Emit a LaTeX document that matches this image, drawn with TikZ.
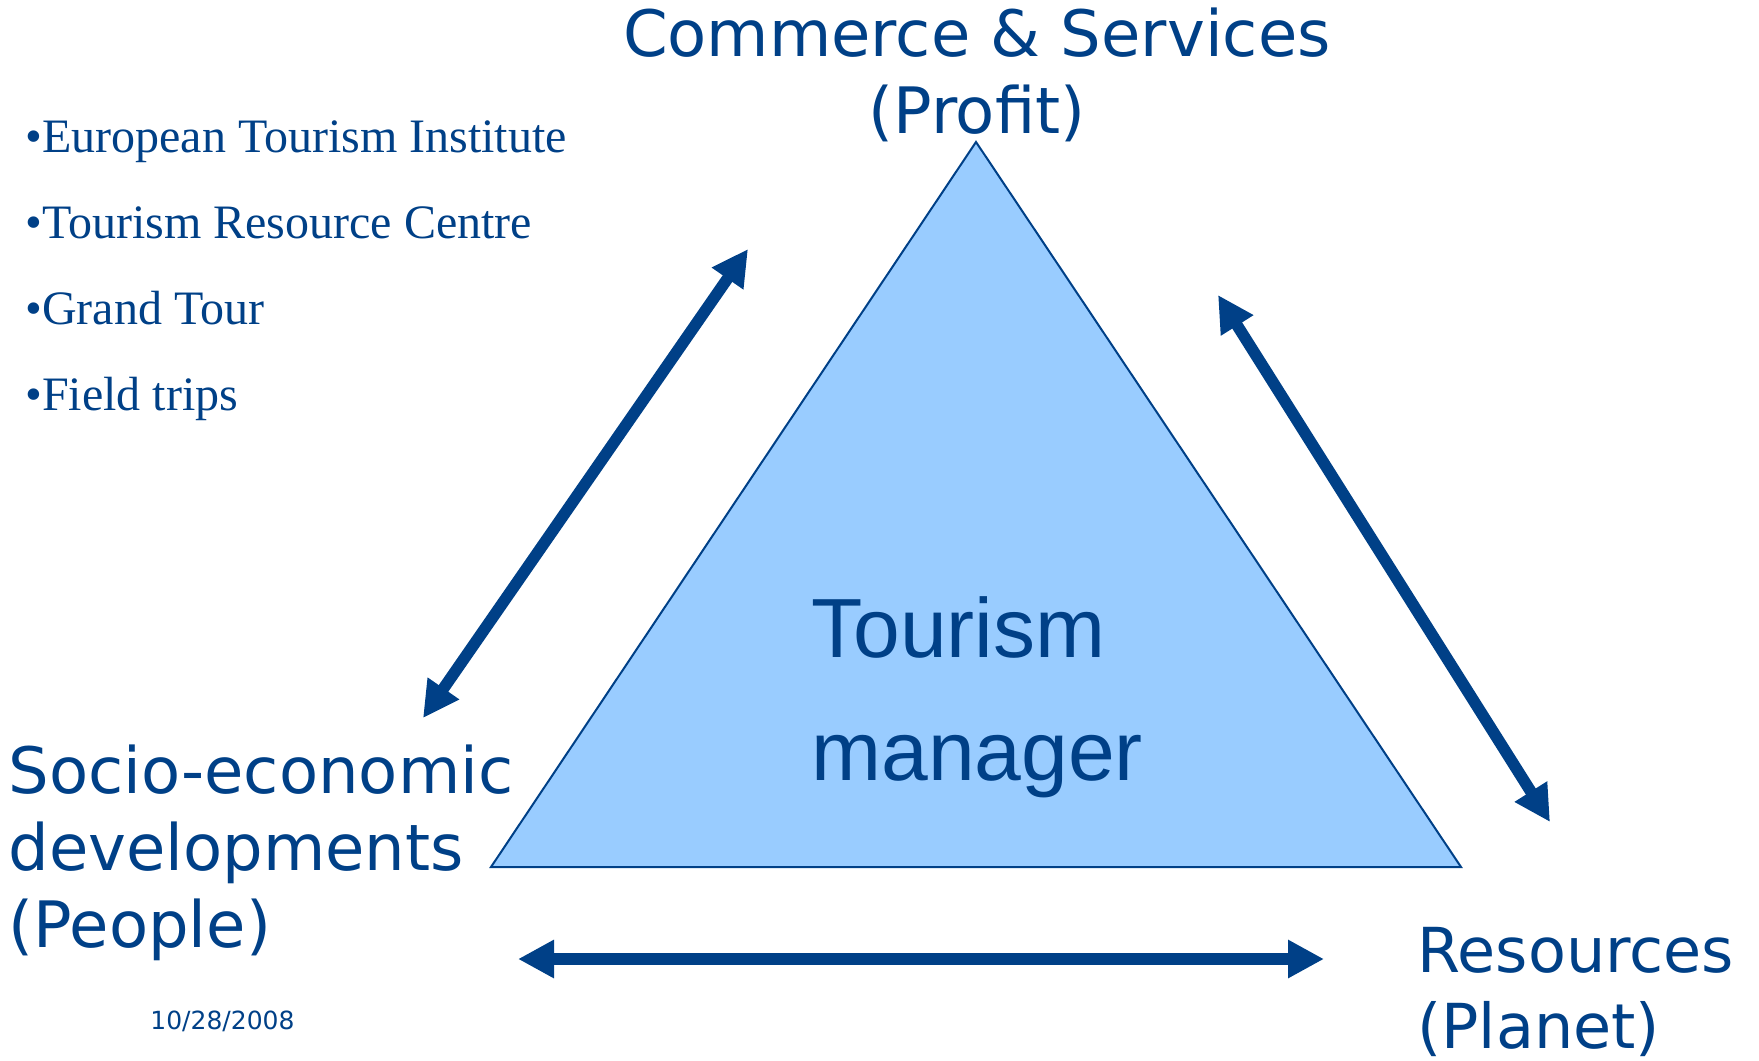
\documentclass[tikz,border=0pt]{standalone}
\usepackage{fontspec}
\setmainfont{Liberation Serif}
\newfontfamily\labelfont{DejaVu Sans}
\newfontfamily\centrefont{Liberation Sans}
\usetikzlibrary{arrows.meta}
\definecolor{navy}{RGB}{0,64,135}
\definecolor{skyfill}{RGB}{153,204,255}

\begin{document}
\begin{tikzpicture}[x=0.5pt,y=-0.5pt,
  corner/.style={text=navy, inner sep=0pt, font=\labelfont\fontsize{32pt}{38.5pt}\selectfont},
  link/.style={navy, line width=5.8pt, {Triangle[length=18pt,width=18pt]}-{Triangle[length=18pt,width=18pt]}}]
\useasboundingbox (0,0) rectangle (1759,1060);

% the triangle
\coordinate (top) at (976,142);
\coordinate (left) at (491,867);
\coordinate (right) at (1461,867);
\draw [navy, line width=1pt, fill=skyfill] (top)--(left)--(right)--cycle;

\node [text=navy, inner sep=0pt, align=left, anchor=base west,
  font=\centrefont\fontsize{42pt}{61.5pt}\selectfont] (manager) at (811,780) {Tourism\\manager};

% corner labels
\node [corner, align=center, anchor=base] (profit) at (977,133) {Commerce \& Services\\(Profit)};
\node [corner, align=left, anchor=base west] (people) at (8,947) {Socio-economic\\developments\\(People)};
\node [corner, align=left, anchor=base west, font=\labelfont\fontsize{31pt}{38pt}\selectfont] (planet) at (1417,1048) {Resources\\(Planet)};

% list and date
\node [text=navy, inner sep=0pt, align=left, anchor=base west,
  font=\fontsize{24pt}{43pt}\selectfont] (sources) at (25,410)
  {•European Tourism Institute\\•Tourism Resource Centre\\•Grand Tour\\•Field trips};
\node [text=navy, inner sep=0pt, anchor=base west, font=\labelfont\fontsize{12.5pt}{15pt}\selectfont] (date) at (150,1029) {10/28/2008};

% arrows
\coordinate (a1) at (748,249);
\coordinate (a2) at (423,718);
\coordinate (b1) at (1218,295);
\coordinate (b2) at (1550,822);
\coordinate (c1) at (518,959);
\coordinate (c2) at (1324,959);
\draw [link] (a1)--(a2);
\draw [link] (b1)--(b2);
\draw [link] (c1)--(c2);

\end{tikzpicture}
\end{document}
